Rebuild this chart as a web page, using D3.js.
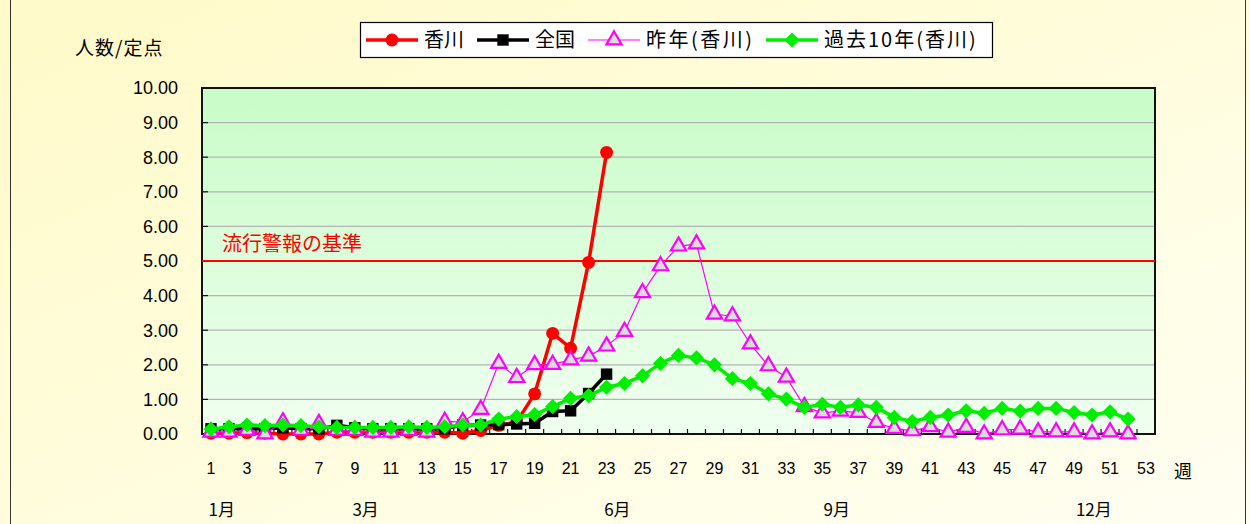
<!DOCTYPE html>
<html lang="ja">
<head>
<meta charset="UTF-8">
<title>香川 インフルエンザ 定点当たり報告数</title>
<style>
  body { margin: 0; background: #fff; }
  svg { display: block; }
  text { font-family: "Noto Sans CJK JP", "Liberation Sans", sans-serif; fill: #000; }
  .num { font-family: "Liberation Sans", Arial, sans-serif; }
</style>
</head>
<body>
<svg id="chart" width="1250" height="524"></svg>
<script src="https://cdn.jsdelivr.net/npm/d3@7/dist/d3.min.js"></script>
<script>
// week numbers 1..53
const weeks = d3.range(1, 54);

// 香川 (this season)
const kagawa = [0.02, 0.02, 0.04, 0.02, 0.00, 0.00, 0.00, 0.05, 0.05, 0.05,
                0.05, 0.05, 0.05, 0.05, 0.02, 0.10, 0.25, 0.35, 1.16, 2.91,
                2.48, 4.96, 8.14];
// 全国
const zenkoku = [0.15, 0.15, 0.15, 0.15, 0.18, 0.15, 0.15, 0.25, 0.18, 0.15,
                 0.15, 0.15, 0.15, 0.15, 0.26, 0.26, 0.27, 0.29, 0.31, 0.65,
                 0.67, 1.17, 1.73];
// 昨年(香川)
const lastYear = [0.05, 0.05, 0.10, 0.00, 0.35, 0.10, 0.30, 0.10, 0.10, 0.05,
                  0.05, 0.10, 0.05, 0.36, 0.35, 0.71, 2.04, 1.63, 2.00, 2.01,
                  2.14, 2.25, 2.54, 2.96, 4.08, 4.86, 5.43, 5.49, 3.46, 3.41,
                  2.60, 1.97, 1.64, 0.79, 0.61, 0.66, 0.62, 0.33, 0.16, 0.09,
                  0.21, 0.05, 0.19, 0.00, 0.12, 0.14, 0.06, 0.06, 0.06, 0.00,
                  0.06, 0.00];
// 過去10年(香川)
const past10 = [0.14, 0.21, 0.26, 0.24, 0.26, 0.24, 0.21, 0.19, 0.19, 0.19,
                0.19, 0.21, 0.19, 0.21, 0.26, 0.26, 0.43, 0.50, 0.56, 0.79,
                1.03, 1.11, 1.35, 1.46, 1.68, 2.04, 2.27, 2.20, 2.00, 1.60,
                1.46, 1.16, 1.01, 0.77, 0.86, 0.77, 0.84, 0.77, 0.48, 0.36,
                0.48, 0.55, 0.67, 0.60, 0.74, 0.66, 0.74, 0.74, 0.62, 0.55,
                0.64, 0.43];

const yTicks = d3.range(0, 11);
const xTickWeeks = weeks.filter(w => w % 2 === 1);
const months = ["1月", "3月", "6月", "9月", "12月"];
const monthWeeks = [1.6, 9.6, 23.6, 35.8, 50.1];
const alertLevel = 5;

const svg = d3.select("#chart");

// plot area
const plot = { left: 202, top: 88, right: 1155, bottom: 434 };
const x = d3.scaleBand().domain(weeks).range([plot.left, plot.right]).padding(0);
const xc = w => x(w) + x.bandwidth() / 2;
const xPos = d3.scaleLinear().domain([1, 53]).range([xc(1), xc(53)]);
const y = d3.scaleLinear().domain([0, 10]).range([plot.bottom, plot.top]);

// gradients
const defs = svg.append("defs");
const bg = defs.append("linearGradient").attr("id", "bg")
  .attr("x1", "0").attr("y1", "0").attr("x2", "1").attr("y2", "1");
bg.append("stop").attr("offset", "0").attr("stop-color", "#fffac8");
bg.append("stop").attr("offset", "1").attr("stop-color", "#fffff2");
const pg = defs.append("linearGradient").attr("id", "pg")
  .attr("x1", "0").attr("y1", "0").attr("x2", "0").attr("y2", "1");
pg.append("stop").attr("offset", "0").attr("stop-color", "#c8fcc8");
pg.append("stop").attr("offset", "1").attr("stop-color", "#f0fff0");

svg.append("rect").attr("x", 0).attr("y", 0).attr("width", 1250).attr("height", 524)
  .attr("fill", "url(#bg)");
svg.append("rect").attr("x", 10.5).attr("y", -2).attr("width", 1235).attr("height", 530)
  .attr("fill", "none").attr("stroke", "#333").attr("stroke-width", 1);

svg.append("rect")
  .attr("x", plot.left).attr("y", plot.top)
  .attr("width", plot.right - plot.left).attr("height", plot.bottom - plot.top)
  .attr("fill", "url(#pg)");

// gridlines
svg.append("g").selectAll("line")
  .data(yTicks.filter(t => t > 0 && t < 10))
  .join("line")
  .attr("x1", plot.left).attr("x2", plot.right)
  .attr("y1", d => y(d)).attr("y2", d => y(d))
  .attr("stroke", "#b4b4b4").attr("stroke-width", 1.2);

// plot border
svg.append("rect")
  .attr("x", plot.left).attr("y", plot.top)
  .attr("width", plot.right - plot.left).attr("height", plot.bottom - plot.top)
  .attr("fill", "none").attr("stroke", "#111").attr("stroke-width", 2);

// y axis ticks (inward) and labels
const yAxis = svg.append("g");
yAxis.selectAll("line").data(yTicks).join("line")
  .attr("x1", plot.left).attr("x2", plot.left + 6)
  .attr("y1", d => y(d)).attr("y2", d => y(d))
  .attr("stroke", "#111").attr("stroke-width", 1.2);
yAxis.selectAll("text").data(yTicks).join("text")
  .attr("class", "num")
  .attr("x", 178).attr("y", d => y(d)).attr("dy", "0.35em")
  .attr("text-anchor", "end").attr("font-size", 18)
  .text(d => d3.format(".2f")(d));

// x axis ticks at category boundaries (inward)
const xAxis = svg.append("g");
xAxis.selectAll("line").data(weeks.slice(1)).join("line")
  .attr("x1", d => x(d)).attr("x2", d => x(d))
  .attr("y1", plot.bottom).attr("y2", plot.bottom - 5)
  .attr("stroke", "#111").attr("stroke-width", 1.2);
xAxis.selectAll("text.wk").data(xTickWeeks).join("text")
  .attr("class", "wk num")
  .attr("x", d => xc(d)).attr("y", 474)
  .attr("text-anchor", "middle").attr("font-size", 16)
  .text(d => d);
svg.append("text").attr("x", 1183).attr("y", 478)
  .attr("text-anchor", "middle").attr("font-size", 18).text("週");
svg.append("g").selectAll("text").data(months).join("text")
  .attr("x", (d, i) => xPos(monthWeeks[i])).attr("y", 516)
  .attr("text-anchor", "middle").attr("font-size", 17)
  .text(d => d);

// y axis title
svg.append("text").attr("x", 75).attr("y", 55).attr("font-size", 19)
  .attr("letter-spacing", 1).text("人数/定点");

// alert reference line
svg.append("line")
  .attr("x1", plot.left).attr("x2", plot.right)
  .attr("y1", y(alertLevel)).attr("y2", y(alertLevel))
  .attr("stroke", "#ff0000").attr("stroke-width", 2);
svg.append("text").attr("x", 222).attr("y", y(alertLevel) - 10)
  .attr("font-size", 20).style("fill", "#ff0000").text("流行警報の基準");

// series
const series = [
  { name: "香川", values: kagawa, color: "#ff0000", width: 3.5,
    symbol: d3.symbolCircle, size: 130, fill: "#ff0000", stroke: "none", sw: 0, rot: 0, ls: 0 },
  { name: "全国", values: zenkoku, color: "#000000", width: 3.5,
    symbol: d3.symbolSquare, size: 130, fill: "#000000", stroke: "none", sw: 0, rot: 0, ls: 0 },
  { name: "昨年(香川)", values: lastYear, color: "#ff00ff", width: 1.2,
    symbol: d3.symbolTriangle, size: 100, fill: "#dcdcdc", stroke: "#ff00ff", sw: 2.2, rot: 0, ls: 2.5 },
  { name: "過去10年(香川)", values: past10, color: "#00ee00", width: 3.5,
    symbol: d3.symbolSquare, size: 115, fill: "#00ee00", stroke: "none", sw: 0, rot: 45, ls: 2 }
];

const line = d3.line().x((d, i) => xc(weeks[i])).y(d => y(d));

series.forEach(s => {
  const g = svg.append("g");
  g.append("path").datum(s.values)
    .attr("d", line)
    .attr("fill", "none").attr("stroke", s.color)
    .attr("stroke-width", s.width).attr("stroke-linejoin", "round");
  g.selectAll("path.m").data(s.values).join("path")
    .attr("class", "m")
    .attr("transform", (d, i) => `translate(${xc(weeks[i])},${y(d)}) rotate(${s.rot})`)
    .attr("d", d3.symbol().type(s.symbol).size(s.size))
    .attr("fill", s.fill).attr("stroke", s.stroke).attr("stroke-width", s.sw);
});

// legend
const legend = svg.append("g");
legend.append("rect").attr("x", 360.5).attr("y", 22.5).attr("width", 632).attr("height", 35)
  .attr("fill", "#fff").attr("stroke", "#000").attr("stroke-width", 1.2);
const legendX = [366, 477, 588, 766];
series.forEach((s, i) => {
  const lx = legendX[i], ly = 40;
  legend.append("line").attr("x1", lx).attr("x2", lx + 52).attr("y1", ly).attr("y2", ly)
    .attr("stroke", s.color).attr("stroke-width", s.width);
  legend.append("path")
    .attr("transform", `translate(${lx + 26},${ly}) rotate(${s.rot})`)
    .attr("d", d3.symbol().type(s.symbol).size(s.size))
    .attr("fill", s.fill).attr("stroke", s.stroke).attr("stroke-width", s.sw);
  legend.append("text").attr("x", lx + 58).attr("y", ly).attr("dy", "0.36em")
    .attr("font-size", 20).attr("letter-spacing", s.ls).text(s.name);
});
</script>
</body>
</html>
